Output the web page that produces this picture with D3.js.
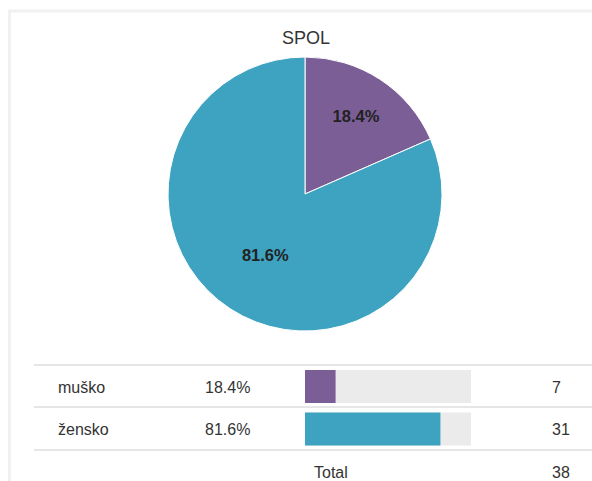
<!DOCTYPE html>
<html>
<head>
<meta charset="UTF-8">
<script src="https://cdn.jsdelivr.net/npm/d3@7"></script>
<style>
	html, body { margin: 0; padding: 0; background: #fff; }
	svg { display: block; font-family: "Liberation Sans", Arial, sans-serif; }
</style>
</head>
<body>
<div id="chart"></div>
<script>
const title = 'SPOL';
const categories = ['muško', 'žensko'];
const counts = [7, 31];
const colors = ['#7b5e96', '#3ea3c1'];

const width = 592;
const height = 481;
const total = d3.sum(counts);
const fmt = (v) => (v / total * 100).toFixed(1) + '%';

const svg = d3.select('#chart').append('svg')
	.attr('width', width)
	.attr('height', height);

// card frame
svg.append('rect')
	.attr('x', 9.5)
	.attr('y', 11)
	.attr('width', width + 20)
	.attr('height', height + 20)
	.attr('fill', 'none')
	.attr('stroke', '#f1f1f1')
	.attr('stroke-width', 3);

svg.append('text')
	.attr('x', 306)
	.attr('y', 44)
	.attr('text-anchor', 'middle')
	.attr('font-size', 18)
	.attr('fill', '#333')
	.text(title);

// pie
const R = 137;
const pie = d3.pie().sort(null)(counts);
const arc = d3.arc().innerRadius(0).outerRadius(R);
// big slices get their label pulled in closer to the centre
const labelPos = (d) => {
	const r = R * (d.endAngle - d.startAngle > Math.PI ? 0.53 : 0.68);
	return d3.arc().innerRadius(r).outerRadius(r).centroid(d);
};

const g = svg.append('g').attr('transform', 'translate(305,194)');
g.selectAll('path')
	.data(pie)
	.enter().append('path')
	.attr('d', arc)
	.attr('fill', (d, i) => colors[i])
	.attr('stroke', '#fff')
	.attr('stroke-width', 1);

g.selectAll('.pie-label')
	.data(pie)
	.enter().append('text')
	.attr('class', 'pie-label')
	.attr('transform', (d) => 'translate(' + labelPos(d) + ')')
	.attr('text-anchor', 'middle')
	.attr('dy', '0.35em')
	.attr('font-size', 16.5)
	.attr('font-weight', 'bold')
	.attr('fill', '#222')
	.text((d) => fmt(d.value));

// table
const rowY = d3.scaleBand().domain(categories).range([365, 450]);
const barX = d3.scaleLinear().domain([0, 1]).range([305, 471]);

svg.selectAll('.rule')
	.data([365, 407, 450])
	.enter().append('line')
	.attr('class', 'rule')
	.attr('x1', 34)
	.attr('x2', width)
	.attr('y1', (d) => d)
	.attr('y2', (d) => d)
	.attr('stroke', '#e6e6e6')
	.attr('stroke-width', 2);

const rows = svg.selectAll('.row')
	.data(categories)
	.enter().append('g')
	.attr('class', 'row')
	.attr('transform', (d) => 'translate(0,' + rowY(d) + ')');

const bh = rowY.bandwidth();

rows.append('rect')
	.attr('x', barX(0))
	.attr('y', 5)
	.attr('width', barX(1) - barX(0))
	.attr('height', bh - 9.5)
	.attr('fill', '#ebebeb');

rows.append('rect')
	.attr('x', barX(0))
	.attr('y', 5)
	.attr('width', (d, i) => barX(counts[i] / total) - barX(0))
	.attr('height', bh - 9.5)
	.attr('fill', (d, i) => colors[i]);

const cell = (x, txt) => rows.append('text')
	.attr('x', x)
	.attr('y', bh / 2 + 6.5)
	.attr('font-size', 16)
	.attr('fill', '#333')
	.text(txt);

cell(58, (d) => d);
cell(205, (d, i) => fmt(counts[i]));
cell(552, (d, i) => counts[i]);

svg.append('text')
	.attr('x', 314)
	.attr('y', 478)
	.attr('font-size', 16)
	.attr('fill', '#333')
	.text('Total');

svg.append('text')
	.attr('x', 552)
	.attr('y', 478)
	.attr('font-size', 16)
	.attr('fill', '#333')
	.text(total);
</script>
</body>
</html>
